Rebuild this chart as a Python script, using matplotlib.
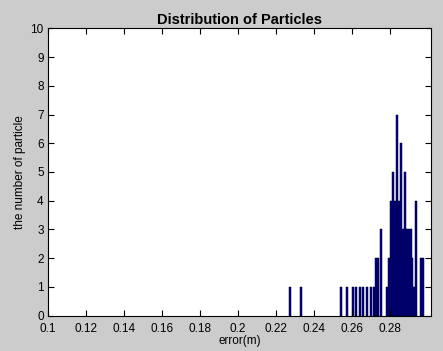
import matplotlib
matplotlib.use("Agg")
import matplotlib.pyplot as plt
import numpy as np

plt.rcParams['font.family'] = ['Liberation Sans', 'DejaVu Sans']

# bin centres (error in m) and particle counts
bin_centers = [0.2275, 0.2333, 0.2542, 0.2573, 0.2607, 0.2623, 0.2641, 0.2657,
               0.2678, 0.2698, 0.2715, 0.2726, 0.2738, 0.2751,
               0.2784, 0.2795, 0.2806, 0.2818, 0.2826, 0.2836, 0.2846, 0.2857,
               0.2868, 0.2879, 0.2890, 0.2900, 0.2909, 0.2918, 0.2926, 0.2938,
               0.2961, 0.2974]
counts = [1, 1, 1, 1, 1, 1, 1, 1,
          1, 1, 1, 2, 2, 3,
          1, 2, 4, 5, 4, 7, 4, 6,
          3, 5, 3, 3, 3, 2, 1, 4,
          2, 2]
bin_width = 0.00105

x_ticks = [0.1, 0.12, 0.14, 0.16, 0.18, 0.2, 0.22, 0.24, 0.26, 0.28]
x_tick_labels = ["0.1", "0.12", "0.14", "0.16", "0.18", "0.2", "0.22", "0.24", "0.26", "0.28"]
y_ticks = list(range(0, 11))

fig = plt.figure(figsize=(4.43, 3.51), dpi=100, facecolor='#CCCCCC')
ax = fig.add_axes([0.108, 0.1006, 0.865, 0.8188])
ax.set_facecolor('white')

ax.bar(bin_centers, counts, width=bin_width, color='#000090',
       edgecolor='#000020', linewidth=0.35, align='center')

ax.set_xlim(0.1, 0.3016)
ax.set_ylim(0, 10)
ax.set_xticks(x_ticks)
ax.set_xticklabels(x_tick_labels)
ax.set_yticks(y_ticks)
ax.tick_params(direction='in', top=True, right=True, labelsize=8.5, length=4,
               width=0.8)
ax.tick_params(axis='x', pad=5)
ax.tick_params(axis='y', pad=3)
for s in ax.spines.values():
    s.set_linewidth(0.8)
    s.set_color('black')

ax.set_title("Distribution of Particles", fontsize=10.5, fontweight='bold', pad=3)
ax.set_xlabel("error(m)", fontsize=8.5, labelpad=0)
ax.set_ylabel("the number of particle", fontsize=8.5, labelpad=3)

fig.savefig("out.png", dpi=100, facecolor=fig.get_facecolor())
